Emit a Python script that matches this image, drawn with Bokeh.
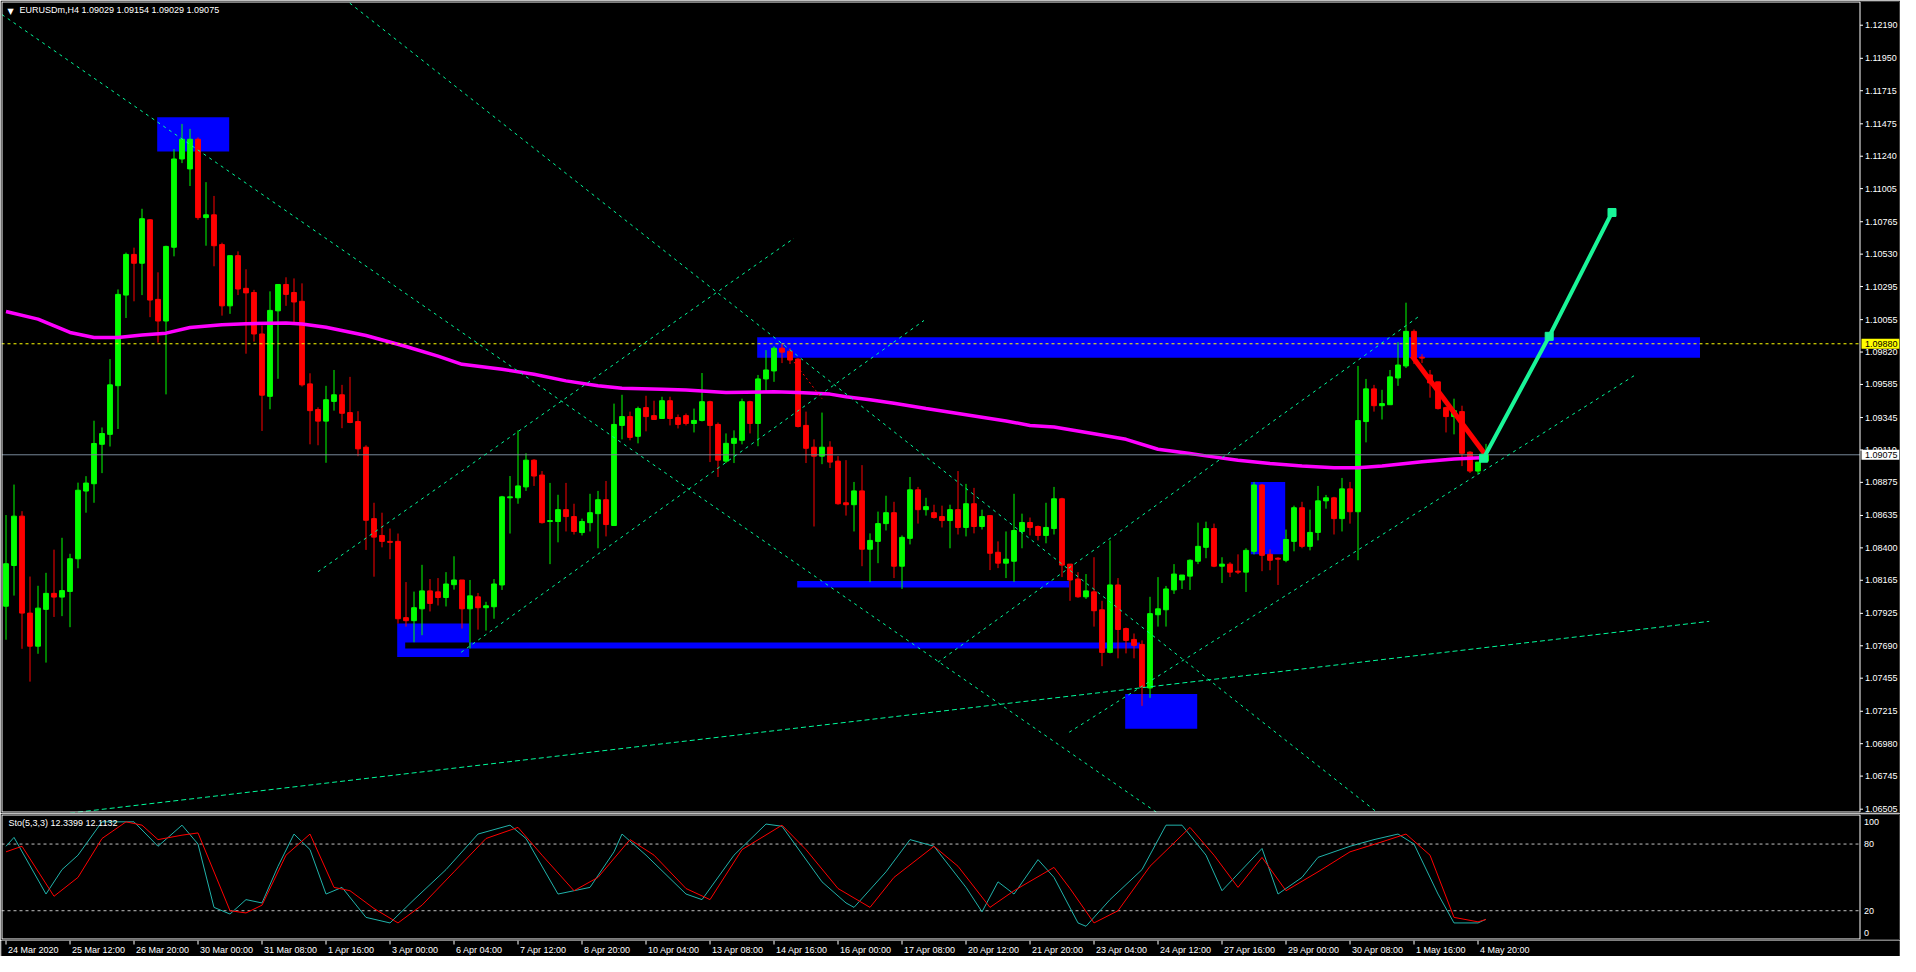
import numpy as np
from bokeh.plotting import figure
from bokeh.layouts import column
from bokeh.models import ColumnDataSource, Range1d
from bokeh.core.properties import value
from bokeh.embed import file_html
from bokeh.resources import INLINE

# ---------------- data (EURUSDm H4) ----------------
open_ = [1.07977,1.08272,1.08630,1.07927,1.07687,1.07954,1.08070,1.08043,1.08084,1.08321,
         1.08812,1.08865,1.09151,1.09223,1.09576,1.10233,1.10528,1.10464,1.10779,1.10202,
         1.10045,1.10580,1.11220,1.11148,1.11363,1.10795,1.10815,1.10599,1.10155,1.10519,
         1.10282,1.10252,1.09951,1.09499,1.10119,1.10310,1.10252,1.10188,1.09589,1.09403,
         1.09319,1.09462,1.09510,1.09381,1.09316,1.09130,1.08612,1.08490,1.08447,1.08447,
         1.07894,1.07872,1.07958,1.08088,1.08081,1.08040,1.08133,1.08167,1.07958,1.08045,
         1.07966,1.07973,1.08131,1.08763,1.08763,1.08842,1.09036,1.08928,1.08591,1.08591,
         1.08677,1.08627,1.08511,1.08583,1.08648,1.08749,1.08562,1.09288,1.09352,1.09209,
         1.09417,1.09359,1.09338,1.09467,1.09345,1.09359,1.09302,1.09324,1.09460,1.09295,
         1.09029,1.09158,1.09180,1.09460,1.09302,1.09625,1.09683,1.09848,1.09826,1.09769,
         1.09288,1.09130,1.09065,1.09130,1.09029,1.08727,1.08713,1.08813,1.08390,1.08447,
         1.08576,1.08655,1.08267,1.08469,1.08821,1.08677,1.08655,1.08627,1.08598,1.08677,
         1.08548,1.08720,1.08555,1.08634,1.08368,1.08289,1.08303,1.08519,1.08584,1.08555,
         1.08490,1.08540,1.08756,1.08282,1.08174,1.08045,1.08081,1.07951,1.07642,1.08131,
         1.07815,1.07736,1.07700,1.07384,1.07915,1.07951,1.08095,1.08167,1.08195,1.08303,
         1.08404,1.08540,1.08267,1.08282,1.08231,1.08224,1.08375,1.08856,1.08353,1.08325,
         1.08310,1.08447,1.08691,1.08411,1.08512,1.08741,1.08763,1.08612,1.08828,1.08662,
         1.09316,1.09553,1.09431,1.09438,1.09632,1.09719,1.09970,1.09783,1.09654,1.09604,
         1.09417,1.09352,1.09388,1.09094,1.08957,1.09029]
high = [1.08638,1.08859,1.08666,1.08192,1.08125,1.08219,1.08387,1.08473,1.08357,1.08873,
        1.08920,1.09322,1.09273,1.09769,1.10274,1.10541,1.10577,1.10859,1.10784,1.10398,
        1.10591,1.11292,1.11474,1.11438,1.11377,1.11052,1.10952,1.10613,1.10519,1.10550,
        1.10420,1.10271,1.10012,1.10260,1.10310,1.10362,1.10354,1.10318,1.09666,1.09419,
        1.09575,1.09690,1.09582,1.09640,1.09391,1.09144,1.08727,1.08655,1.08540,1.08504,
        1.08152,1.08083,1.08277,1.08174,1.08181,1.08224,1.08339,1.08167,1.08167,1.08073,
        1.08009,1.08174,1.08777,1.08921,1.09252,1.09086,1.09043,1.08957,1.08871,1.08785,
        1.08871,1.08720,1.08612,1.08792,1.08813,1.08885,1.09446,1.09510,1.09388,1.09424,
        1.09503,1.09467,1.09496,1.09496,1.09367,1.09374,1.09410,1.09668,1.09467,1.09309,
        1.09230,1.09252,1.09482,1.09467,1.09654,1.09834,1.09862,1.09877,1.09848,1.09776,
        1.09388,1.09187,1.09381,1.09173,1.09065,1.09036,1.08878,1.09000,1.08505,1.08663,
        1.08778,1.08734,1.08490,1.08914,1.08842,1.08763,1.08713,1.08706,1.08713,1.08957,
        1.08864,1.08835,1.08677,1.08634,1.08447,1.08519,1.08792,1.08648,1.08620,1.08562,
        1.08727,1.08842,1.08763,1.08282,1.08224,1.08210,1.08332,1.08016,1.08454,1.08181,
        1.07822,1.07779,1.07729,1.08045,1.08188,1.08124,1.08282,1.08203,1.08317,1.08583,
        1.08590,1.08576,1.08332,1.08296,1.08353,1.08397,1.08878,1.08864,1.08389,1.08332,
        1.08533,1.08706,1.08734,1.08677,1.08849,1.08784,1.08770,1.08907,1.08878,1.09719,
        1.09625,1.09582,1.09546,1.09690,1.09891,1.10178,1.09984,1.09805,1.09690,1.09604,
        1.09424,1.09482,1.09431,1.09101,1.09022,1.09154]
low = [1.07734,1.08054,1.07668,1.07430,1.07632,1.07568,1.07899,1.07905,1.07825,1.08252,
       1.08655,1.08727,1.08942,1.09135,1.09262,1.10067,1.10188,1.10233,1.10073,1.09888,
       1.09513,1.10514,1.11190,1.11024,1.10779,1.10591,1.10442,1.10084,1.10097,1.10233,
       1.09808,1.09896,1.09248,1.09405,1.09626,1.10155,1.10031,1.09570,1.09151,1.09144,
       1.09017,1.09395,1.09268,1.09304,1.09065,1.08385,1.08191,1.08404,1.08318,1.07851,
       1.07829,1.07716,1.07767,1.07939,1.07982,1.07975,1.08097,1.07815,1.07671,1.07807,
       1.07800,1.07886,1.08095,1.08504,1.08720,1.08813,1.08849,1.08576,1.08282,1.08440,
       1.08519,1.08497,1.08490,1.08519,1.08397,1.08483,1.08562,1.09187,1.09180,1.09158,
       1.09245,1.09331,1.09338,1.09288,1.09266,1.09288,1.09237,1.09317,1.09022,1.08914,
       1.09015,1.09015,1.09151,1.09230,1.09137,1.09539,1.09604,1.09740,1.09733,1.09273,
       1.09015,1.08555,1.09007,1.08979,1.08713,1.08634,1.08519,1.08267,1.08152,1.08289,
       1.08526,1.08181,1.08102,1.08425,1.08576,1.08634,1.08612,1.08548,1.08397,1.08497,
       1.08483,1.08505,1.08533,1.08239,1.08253,1.08181,1.08153,1.08397,1.08490,1.08454,
       1.08433,1.08497,1.08188,1.08016,1.08038,1.08030,1.07829,1.07542,1.07635,1.07599,
       1.07635,1.07599,1.07254,1.07312,1.07829,1.07829,1.08066,1.08102,1.08095,1.08282,
       1.08325,1.08260,1.08145,1.08188,1.08210,1.08080,1.08353,1.08231,1.08238,1.08131,
       1.08296,1.08375,1.08397,1.08382,1.08454,1.08684,1.08497,1.08519,1.08576,1.08310,
       1.09165,1.09388,1.09331,1.09438,1.09575,1.09704,1.09733,1.09740,1.09489,1.09403,
       1.09237,1.09223,1.08993,1.08943,1.08935,1.09029]
close = [1.08285,1.08630,1.07927,1.07687,1.07963,1.08070,1.08043,1.08090,1.08321,1.08818,
         1.08870,1.09157,1.09229,1.09582,1.10238,1.10528,1.10464,1.10787,1.10197,1.10045,
         1.10586,1.11220,1.11363,1.11363,1.10795,1.10815,1.10591,1.10155,1.10519,1.10277,
         1.10249,1.09951,1.09507,1.10122,1.10310,1.10238,1.10183,1.09582,1.09395,1.09319,
         1.09474,1.09510,1.09376,1.09309,1.09118,1.08600,1.08478,1.08447,1.08440,1.07886,
         1.07872,1.07966,1.08088,1.07997,1.08040,1.08138,1.08167,1.07958,1.08052,1.07966,
         1.07980,1.08138,1.08770,1.08770,1.08849,1.09036,1.08921,1.08583,1.08598,1.08677,
         1.08627,1.08519,1.08591,1.08655,1.08749,1.08569,1.09295,1.09352,1.09201,1.09410,
         1.09352,1.09331,1.09467,1.09338,1.09295,1.09302,1.09324,1.09460,1.09288,1.09036,
         1.09158,1.09194,1.09460,1.09302,1.09625,1.09690,1.09848,1.09819,1.09762,1.09280,
         1.09122,1.09065,1.09130,1.09022,1.08720,1.08713,1.08813,1.08390,1.08454,1.08576,
         1.08655,1.08267,1.08476,1.08821,1.08677,1.08699,1.08620,1.08598,1.08677,1.08548,
         1.08720,1.08555,1.08627,1.08361,1.08289,1.08318,1.08526,1.08584,1.08548,1.08490,
         1.08548,1.08756,1.08275,1.08167,1.08045,1.08088,1.07944,1.07642,1.08131,1.07808,
         1.07729,1.07693,1.07391,1.07923,1.07958,1.08102,1.08210,1.08203,1.08310,1.08411,
         1.08540,1.08267,1.08282,1.08224,1.08224,1.08382,1.08856,1.08346,1.08310,1.08318,
         1.08461,1.08691,1.08411,1.08512,1.08741,1.08763,1.08612,1.08828,1.08662,1.09323,
         1.09553,1.09431,1.09446,1.09640,1.09726,1.09970,1.09776,1.09776,1.09596,1.09410,
         1.09352,1.09395,1.09086,1.08957,1.09022,1.09075]

# moving average (magenta), sampled along the bars
ma_x = [0,4,8,11,14,17,20,23,27,30,35,37,40,45,50,54,57,62,66,70,74,77,82,85,90,96,99,103,105,108,
        111,115,120,125,128,131,136,140,144,148,150,154,158,162,166,169,172,177,181,185]
ma_y = [1.10114,1.10059,1.09962,1.09926,1.09926,1.09943,1.09957,1.09998,1.10018,1.10026,
        1.10031,1.10023,1.10000,1.09940,1.09860,1.09790,1.09731,1.09695,1.09659,1.09611,
        1.09575,1.09558,1.09551,1.09544,1.09527,1.09532,1.09527,1.09515,1.09496,1.09474,
        1.09448,1.09410,1.09365,1.09320,1.09288,1.09276,1.09228,1.09187,1.09115,1.09084,
        1.09067,1.09036,1.09012,1.08993,1.08981,1.08981,1.08993,1.09024,1.09045,1.09055]

# stochastic (5,3,3): %K main line and %D signal line
k_x = [0,1,5,7,9,12,14,16,19,22,24,26,28,30,32,34,36,38,40,42,45,48,51,55,59,63,65,69,73,76,
       77,80,85,87,91,95,97,102,105,106,110,113,116,120,122,124,126,129,131,134,135,138,142,145,147,150,152,157,159,162,
       164,168,171,174,176,179,181,184,185]
k_v = [78,86,35,57,70,100,100,100,78,97,80,23,17,30,27,60,89,75,35,41,14,9,30,57,89,97,85,35,41,73,
       89,70,35,30,70,98,96,46,27,23,55,84,78,41,19,46,35,66,50,9,6,30,57,97,97,70,38,76,35,50,
       68,78,84,89,80,35,9,9,12.34]
d_x = [0,2,6,9,12,15,17,19,22,24,28,30,32,35,38,41,43,46,49,52,56,60,64,67,71,74,78,81,85,88,
       92,97,100,104,108,111,116,119,123,126,131,133,136,139,143,148,151,154,157,160,164,168,172,175,178,181,184,185]
d_v = [73,78,33,50,85,100,97,84,88,90,20,18,25,70,89,41,38,22,9,25,55,85,95,70,38,50,84,70,40,30,
       75,97,75,40,23,50,78,60,23,38,59,40,9,20,60,95,70,41,68,38,55,73,82,89,70,14,10,12.11]

# blue rectangle objects (bar index / price)
rect_left   = [18.9, 48.9, 49.9, 98.9, 93.9, 139.9, 155.6]
rect_right  = [27.9, 57.9, 141.75, 132.9, 211.75, 148.9, 159.9]
rect_bottom = [1.11275, 1.07609, 1.07671, 1.08112, 1.09778, 1.07089, 1.08354]
rect_top    = [1.11523, 1.07851, 1.07714, 1.08160, 1.09927, 1.07341, 1.08878]

# dotted trend lines
tl_x0 = [-0.5, 41.6, 39.0, 56.9, 116.5, 132.9]
tl_y0 = [1.12267, 1.12413, 1.08227, 1.07643, 1.07571, 1.07063]
tl_x1 = [144.5, 172.1, 98.5, 114.75, 176.6, 203.5]
tl_y1 = [1.06455, 1.06450, 1.10645, 1.10049, 1.10078, 1.09648]
long_x = [7.0, 212.9]
long_y = [1.06470, 1.07867]
red_dot_x = [97.75, 102.0]
red_dot_y = [1.09805, 1.09482]
red_thick_x = [175.75, 185.0]
red_thick_y = [1.09791, 1.09070]
green_x = [184.7, 192.9, 200.75]
green_y = [1.09050, 1.09934, 1.10832]

level_price = 1.09880
bid_price = 1.09075
price_ticks = [1.12190,1.11950,1.11715,1.11475,1.11240,1.11005,1.10765,1.10530,1.10295,1.10055,
               1.09820,1.09585,1.09345,1.09110,1.08875,1.08635,1.08400,1.08165,1.07925,1.07690,
               1.07455,1.07215,1.06980,1.06745,1.06505]
sto_ticks = [100, 80, 20, 0]
sto_levels = [80, 20]
time_ticks = [0,8,16,24,32,40,48,56,64,72,80,88,96,104,112,120,128,136,144,152,160,168,176,184]
time_labels = ["24 Mar 2020","25 Mar 12:00","26 Mar 20:00","30 Mar 00:00","31 Mar 08:00","1 Apr 16:00",
               "3 Apr 00:00","6 Apr 04:00","7 Apr 12:00","8 Apr 20:00","10 Apr 04:00","13 Apr 08:00",
               "14 Apr 16:00","16 Apr 00:00","17 Apr 08:00","20 Apr 12:00","21 Apr 20:00","23 Apr 04:00",
               "24 Apr 12:00","27 Apr 16:00","29 Apr 00:00","30 Apr 08:00","1 May 16:00","4 May 20:00"]
header = "EURUSDm,H4  1.09029 1.09154 1.09029 1.09075"
sto_title = "Sto(5,3,3) 12.3399 12.1132"

# ---------------- layout ----------------
W = 1900
FW = W - 2                     # frame width (1 px border each side)
PX = 8.0                       # pixels per bar
FONT = "Liberation Sans"
FS = "9px"
XR = Range1d(-0.5625, -0.5625 + FW / PX)
BX = 231.75                    # right edge of the chart area (price scale to its right)
MAIN_H = 811
STO_H = 125
YR = Range1d(1.06481, 1.12362)
SR = Range1d(-5.9, 106.6)
DY = (YR.end - YR.start) / MAIN_H
DS = (SR.end - SR.start) / STO_H

def base_fig(height, frame_h, y_range):
    f = figure(width=W, height=height, x_range=XR, y_range=y_range,
               x_axis_location=None, y_axis_location=None,
               output_backend="svg", toolbar_location=None,
               min_border_left=1, min_border_right=1,
               min_border_top=(height - frame_h) // 2, min_border_bottom=height - frame_h - (height - frame_h) // 2,
               background_fill_color="black", border_fill_color="black", outline_line_color=None)
    f.xgrid.visible = False
    f.ygrid.visible = False
    return f

def chart_border(f, yr, d):
    f.quad(left=[XR.start + 0.5 / PX], right=[BX], bottom=[yr.start + 0.5 * d], top=[yr.end - 0.5 * d],
           fill_color=None, line_color="white", line_width=1)

# ---------------- main price panel ----------------
main = base_fig(MAIN_H + 2, MAIN_H, YR)

main.quad(left=rect_left, right=rect_right, bottom=rect_bottom, top=rect_top,
          fill_color="#0000FF", line_color=None)
# overlapping area of two rectangles shows black (xor drawing)
ov_l = max(rect_left[1], rect_left[2]); ov_r = min(rect_right[1], rect_right[2])
ov_b = max(rect_bottom[1], rect_bottom[2]); ov_t = min(rect_top[1], rect_top[2])
main.quad(left=[ov_l], right=[ov_r], bottom=[ov_b], top=[ov_t], fill_color="black", line_color=None)

# candles
o = np.array(open_); h = np.array(high); l = np.array(low); c = np.array(close)
idx = np.arange(len(o))
col = np.where(c >= o, "#00FF00", "#FF0000")
src = ColumnDataSource(dict(x=idx, h=h, l=l, top=np.maximum(o, c), bottom=np.minimum(o, c), color=col))
main.segment(x0="x", y0="h", x1="x", y1="l", line_color="color", line_width=1, source=src)
main.vbar(x="x", width=0.6, top="top", bottom="bottom", fill_color="color", line_color="color",
          line_width=1, source=src)

# moving average
main.line(ma_x, ma_y, line_color="#FF00FF", line_width=3.5)

# level line and bid line (stop at the chart edge)
main.segment(x0=[XR.start], y0=[level_price], x1=[BX], y1=[level_price], line_color="#FFFF00",
             line_dash="3 3", line_width=1)
main.segment(x0=[XR.start], y0=[bid_price], x1=[BX], y1=[bid_price], line_color="#778899", line_width=1)

# trend lines
main.segment(x0=tl_x0, y0=tl_y0, x1=tl_x1, y1=tl_y1, line_color="#00FA9A", line_dash="3 4", line_width=1)
main.line(long_x, long_y, line_color="#00FA9A", line_dash="5 3", line_width=1)
main.line(red_dot_x, red_dot_y, line_color="#FF0000", line_dash="2 3", line_width=1)
main.line(red_thick_x, red_thick_y, line_color="#FF0000", line_width=5)
main.line(green_x, green_y, line_color="#19F598", line_width=4)
main.scatter(green_x, green_y, marker="square", size=8, fill_color="#19F598", line_color="#19F598")

chart_border(main, YR, DY)

# price scale
main.segment(x0=[BX] * len(price_ticks), y0=price_ticks, x1=[BX + 3 / PX] * len(price_ticks), y1=price_ticks,
             line_color="white", line_width=1)
main.text(x=[BX] * len(price_ticks), y=price_ticks, text=["%.5f" % t for t in price_ticks],
          text_color="white", text_font=value(FONT), text_font_size=FS, text_baseline="middle",
          text_align="left", x_offset=5)
# price boxes
box_y = [level_price, bid_price]
main.quad(left=[BX + 1.5 / PX] * 2, right=[XR.end] * 2, bottom=[v - 5 * DY for v in box_y],
          top=[v + 5 * DY for v in box_y], fill_color=["#FFFF00", "white"], line_color=None)
main.text(x=[BX] * 2, y=box_y, text=["%.5f" % v for v in box_y], text_color="black",
          text_font=value(FONT), text_font_size=FS, text_baseline="middle", text_align="left", x_offset=5)

# header
main.text(x=[XR.start], y=[YR.end], text=["\u25BC"], text_color="white", text_font=value("DejaVu Sans"),
          text_font_size="8px", text_baseline="top", text_align="left", x_offset=6, y_offset=5)
main.text(x=[XR.start], y=[YR.end], text=[header], text_color="white", text_font=value(FONT),
          text_font_size=FS, text_baseline="top", text_align="left", x_offset=18, y_offset=3)

# ---------------- stochastic panel ----------------
sto = base_fig(STO_H + 2, STO_H, SR)
sto.segment(x0=[XR.start] * 2, y0=sto_levels, x1=[BX] * 2, y1=sto_levels, line_color="#C0C0C0",
            line_dash="3 3", line_width=1)
sto.line(k_x, k_v, line_color="#20B2AA", line_width=1)
sto.line(d_x, d_v, line_color="#FF0000", line_width=1)
chart_border(sto, SR, DS)
sto.text(x=[BX] * len(sto_ticks), y=sto_ticks, text=[str(t) for t in sto_ticks], text_color="white",
         text_font=value(FONT), text_font_size=FS, text_baseline="middle", text_align="left", x_offset=4)
sto.text(x=[XR.start], y=[SR.end], text=[sto_title], text_color="white", text_font=value(FONT),
         text_font_size=FS, text_baseline="top", text_align="left", x_offset=7, y_offset=3)

# ---------------- time scale ----------------
tf = base_fig(16, 16, Range1d(0, 16))
tf.segment(x0=time_ticks, y0=[16] * len(time_ticks), x1=time_ticks, y1=[12] * len(time_ticks),
           line_color="white", line_width=1)
tf.text(x=time_ticks, y=[7] * len(time_ticks), text=time_labels, text_color="white",
        text_font=value(FONT), text_font_size=FS, text_baseline="middle", text_align="left", x_offset=2)

layout = column(main, sto, tf, spacing=0)
open("out.html", "w").write(file_html(layout, INLINE))
